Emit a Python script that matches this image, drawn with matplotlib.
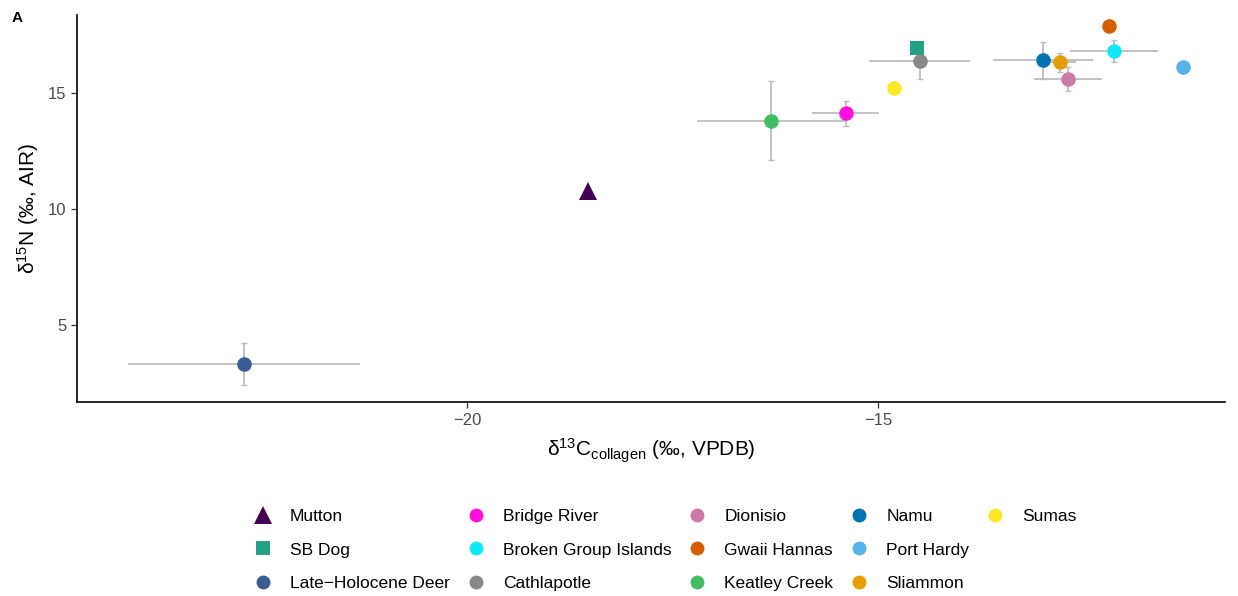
import numpy as np
import matplotlib
matplotlib.use('Agg')
import matplotlib.pyplot as plt
from matplotlib.lines import Line2D

plt.rcParams['font.family'] = ['Liberation Sans', 'DejaVu Sans']
plt.rcParams['mathtext.fontset'] = 'custom'
plt.rcParams['mathtext.rm'] = 'Liberation Sans'
plt.rcParams['mathtext.default'] = 'regular'

# site summaries (mean and sd), nan where no error bar shown
sites = ['Mutton', 'SB Dog', 'Late\u2212Holocene Deer', 'Bridge River',
         'Broken Group Islands', 'Cathlapotle', 'Dionisio', 'Gwaii Hannas',
         'Keatley Creek', 'Namu', 'Port Hardy', 'Sliammon', 'Sumas']
d13c = [-18.53, -14.53, -22.71, -15.40, -12.14, -14.50, -12.70, -12.20,
        -16.31, -13.00, -11.30, -12.80, -14.81]
d15n = [10.76, 16.91, 3.33, 14.11, 16.81, 16.38, 15.59, 17.89,
        13.79, 16.40, 16.09, 16.31, 15.22]
d13c_sd = [np.nan, np.nan, 1.41, 0.41, 0.53, 0.61, 0.41, np.nan,
           0.90, 0.61, np.nan, 0.20, np.nan]
d15n_sd = [np.nan, np.nan, 0.90, 0.53, 0.47, 0.79, 0.51, np.nan,
           1.70, 0.80, np.nan, 0.40, np.nan]

colors = ['#440154', '#23a085', '#3b5b95', '#ff10dc', '#11e8f5', '#888888',
          '#cc79a7', '#d55e00', '#40be61', '#0072b2', '#56b4e9', '#e69f00',
          '#fde725']
markers = ['^', 's', 'o', 'o', 'o', 'o', 'o', 'o', 'o', 'o', 'o', 'o', 'o']
sizes = [13, 10, 10.5, 10.5, 10.5, 10.5, 10.5, 10.5, 10.5, 10.5, 10.5, 10.5, 10.5]

fig = plt.figure(figsize=(12.38, 5.96), dpi=100)
ax = fig.add_axes([0.062, 0.3247, 0.9275, 0.6503])

err_col = '#bdbdbd'
for i in range(len(sites)):
    if not np.isnan(d15n_sd[i]):
        ax.errorbar(d13c[i], d15n[i], yerr=d15n_sd[i], fmt='none',
                    ecolor=err_col, elinewidth=1.3, capsize=2, capthick=1.0, zorder=1)
    if not np.isnan(d13c_sd[i]):
        ax.errorbar(d13c[i], d15n[i], xerr=d13c_sd[i], fmt='none',
                    ecolor=err_col, elinewidth=1.3, capsize=0, zorder=1)

for i in range(len(sites)):
    ax.plot(d13c[i], d15n[i], linestyle='none', marker=markers[i],
            markersize=sizes[i], color=colors[i], markeredgewidth=0, zorder=3)

ax.set_xlim(-24.74, -10.79)
ax.set_ylim(1.67, 18.35)
ax.set_xticks([-20, -15])
ax.set_yticks([5, 10, 15])

for side in ['top', 'right']:
    ax.spines[side].set_visible(False)
for side in ['left', 'bottom']:
    ax.spines[side].set_linewidth(1.2)
ax.tick_params(length=4, width=0.9, color='#333333', labelcolor='#4d4d4d',
               labelsize=12)

ax.set_xlabel('δ$^{13}$C$_{collagen}$ (‰, VPDB)', fontsize=15, labelpad=6)
ax.set_ylabel('δ$^{15}$N (‰, AIR)', fontsize=15, labelpad=5)

fig.text(0.009, 0.97, 'A', fontsize=11, fontweight='bold', va='center')

handles = [Line2D([], [], linestyle='none', marker=markers[i],
                  markersize=sizes[i] - 0.5, color=colors[i], markeredgewidth=0)
           for i in range(len(sites))]
labels = list(sites)
# two empty slots so the last column holds only Sumas
for _ in range(2):
    handles.append(Line2D([], [], linestyle='none'))
    labels.append('')
fig.legend(handles, labels, ncol=5, loc='upper left',
           bbox_to_anchor=(250 / 1238, 1 - 509 / 596),
           frameon=False, fontsize=12.5, handletextpad=0.8, columnspacing=0.75,
           labelspacing=1.05, handlelength=1.5, borderpad=0, borderaxespad=0)

fig.savefig('out.png', dpi=100)
